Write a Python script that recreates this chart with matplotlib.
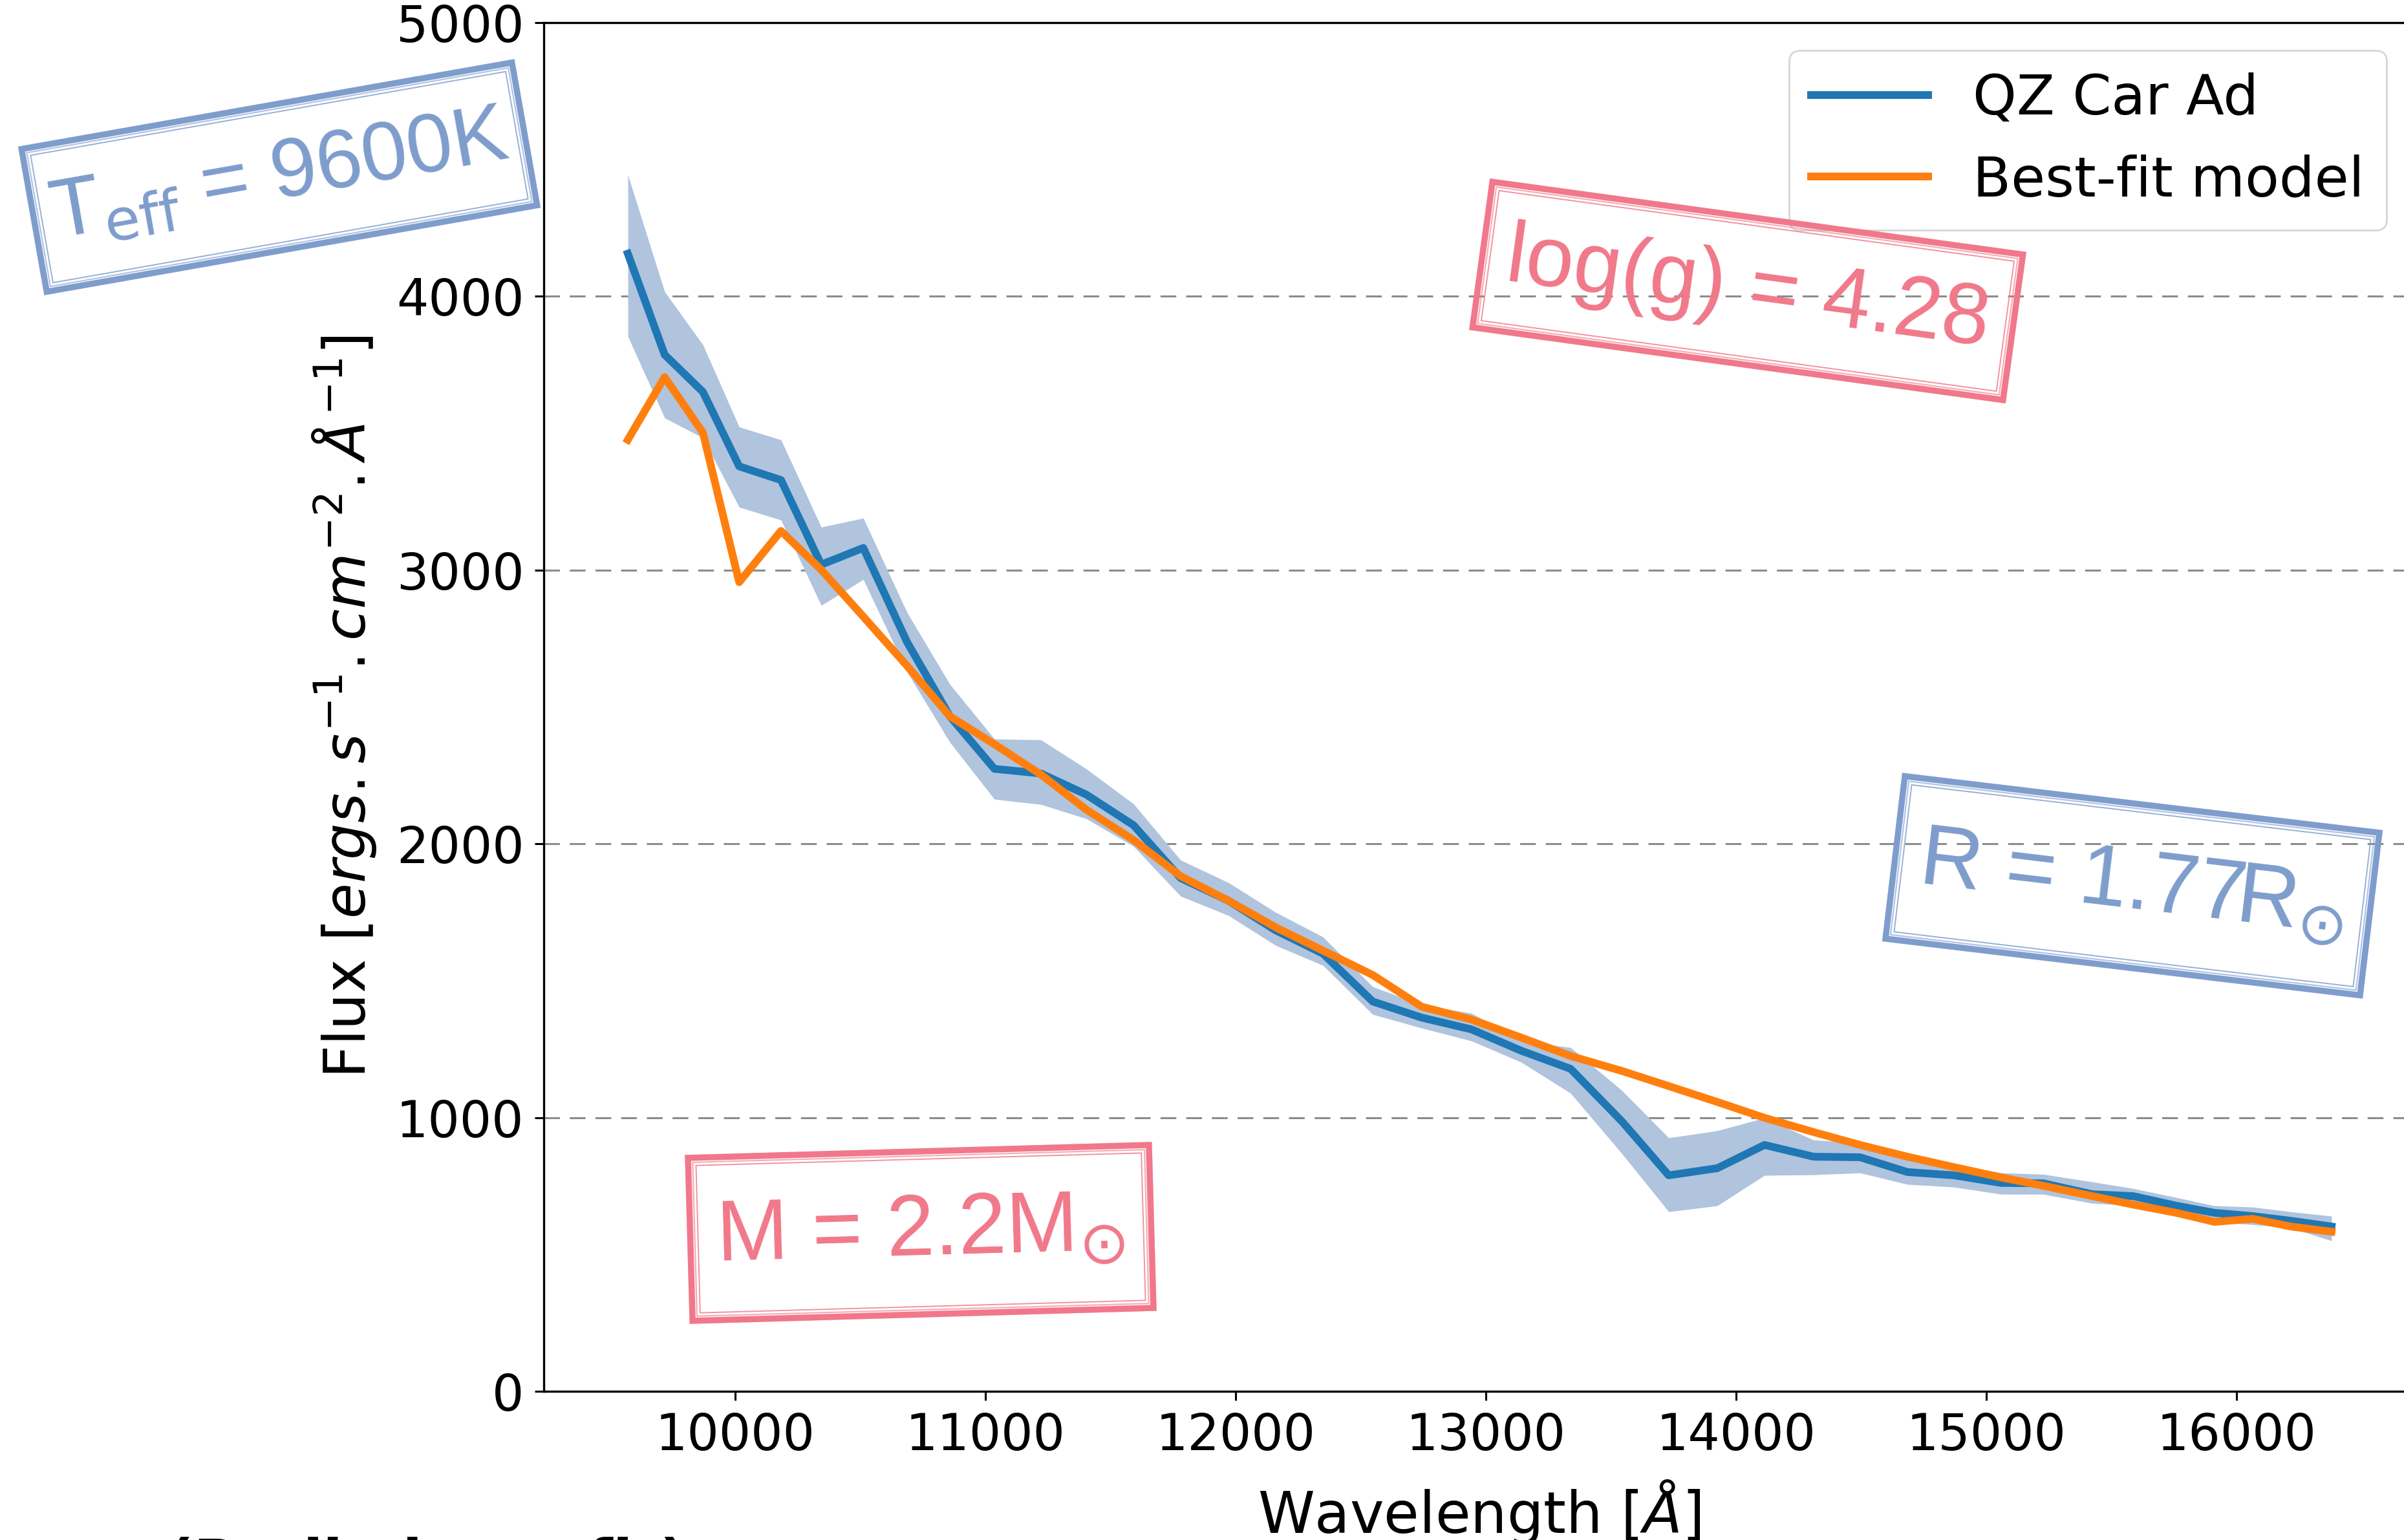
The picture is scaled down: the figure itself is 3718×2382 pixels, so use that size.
import numpy as np
import matplotlib
matplotlib.use("Agg")
import matplotlib.pyplot as plt
from matplotlib.patches import Rectangle
from matplotlib.transforms import Affine2D
from matplotlib import font_manager

# wavelength grid [A] and fluxes
wave = [9571, 9718, 9871, 10016, 10183, 10344, 10512, 10687, 10858, 11036,
        11222, 11403, 11592, 11780, 11972, 12160, 12349, 12548, 12744, 12943,
        13142, 13339, 13545, 13731, 13925, 14114, 14310, 14496, 14685, 14871,
        15061, 15227, 15424, 15587, 15760, 15912, 16065, 16217, 16380]
flux_obs = [4156, 3787, 3651, 3379, 3329, 3020, 3081, 2737, 2466, 2274,
            2257, 2180, 2068, 1875, 1792, 1684, 1599, 1424, 1365, 1322,
            1244, 1178, 985, 789, 815, 900, 857, 855, 801, 789,
            761, 760, 720, 713, 678, 652, 640, 623, 602]
flux_up = [4444, 4017, 3823, 3523, 3476, 3157, 3190, 2845, 2583, 2383,
           2380, 2274, 2146, 1941, 1858, 1750, 1660, 1478, 1412, 1381,
           1280, 1256, 1098, 926, 952, 999, 918, 909, 845, 829,
           798, 793, 765, 741, 708, 678, 673, 656, 640]
flux_lo = [3854, 3556, 3483, 3230, 3183, 2871, 2966, 2628, 2371, 2163,
           2144, 2092, 1991, 1809, 1738, 1629, 1556, 1377, 1327, 1280,
           1202, 1089, 867, 656, 678, 789, 791, 798, 756, 746,
           720, 720, 687, 678, 645, 619, 609, 597, 550]
flux_model = [3476, 3705, 3502, 2956, 3143, 3001, 2830, 2650, 2466, 2364,
              2253, 2125, 2014, 1882, 1792, 1695, 1610, 1521, 1405, 1358,
              1292, 1225, 1170, 1115, 1057, 999, 947, 900, 857, 819,
              781, 751, 713, 682, 652, 619, 630, 602, 583]

stamp_texts = [r"T$_{\rm eff}$ = 9600K", "log(g) = 4.28",
               "R = 1.77R$_{⊙}$", "M = 2.2M$_{⊙}$"]

W, H, DPI = 3718, 2382, 200
BLUE_ST = "#7f9dcc"
PINK_ST = "#f0788a"

names = {f.name for f in font_manager.fontManager.ttflist}
stamp_font = "Liberation Sans" if "Liberation Sans" in names else "DejaVu Sans"

fig = plt.figure(figsize=(W / DPI, H / DPI), dpi=DPI)
ax = fig.add_axes([841 / W, (H - 2152) / H, (3734 - 841) / W, (2152 - 35) / H])

ax.fill_between(wave, flux_lo, flux_up, color="lightsteelblue", lw=0, zorder=1)
ax.plot(wave, flux_obs, color="#1f77b4", lw=4.3, label="QZ Car Ad", zorder=3)
ax.plot(wave, flux_model, color="#ff7f0e", lw=4.3, label="Best-fit model", zorder=4)

ax.set_xlim(9235, 16711)
ax.set_ylim(0, 5000)
ax.set_xticks(range(10000, 16001, 1000))
ax.set_yticks(range(0, 5001, 1000))
ax.yaxis.grid(True, ls=(0, (8, 5)), color="0.55", lw=1.1, zorder=0)
ax.set_axisbelow(True)
ax.tick_params(labelsize=28, length=5, width=1.1, pad=6)
for s in ax.spines.values():
    s.set_linewidth(1.2)

ax.set_xlabel(r"Wavelength [$\AA$]", fontsize=32, labelpad=10)
ax.set_ylabel(r"Flux [$ergs.s^{-1}.cm^{-2}.\AA^{-1}$]", fontsize=32, labelpad=10)

ax.legend(loc="upper right", fontsize=31, handlelength=2.1)


def stamp(cx, cy, w, h, ang, txt, col, size=48):
    tr = Affine2D().rotate_deg(ang).translate(cx / DPI, (H - cy) / DPI) + fig.dpi_scale_trans
    w, h = w / DPI, h / DPI
    fig.add_artist(Rectangle((-w / 2, -h / 2), w, h, transform=tr, fill=False,
                             ec=col, lw=3.4, zorder=10))
    # rough inner strokes for the rubber-stamp look
    for d, lw, a in [(0.035, 0.8, 0.6), (0.06, 0.7, 0.8), (-0.02, 0.6, 0.4)]:
        fig.add_artist(Rectangle((-w / 2 + d, -h / 2 + d), w - 2 * d, h - 2 * d,
                                 transform=tr, fill=False, ec=col, lw=lw,
                                 alpha=a, zorder=10))
    fig.text(0, 0, txt, transform=tr, rotation=ang, rotation_mode="anchor",
             ha="center", va="center", color=col, fontsize=size,
             family=[stamp_font, "DejaVu Sans"], zorder=11)


stamp(432, 274, 770, 224, 10.0, stamp_texts[0], BLUE_ST, 46)
stamp(2703, 450, 828, 227, -7.8, stamp_texts[1], PINK_ST)
stamp(3298, 1370, 739, 253, -6.8, stamp_texts[2], BLUE_ST)
stamp(1424, 1907, 713, 252, 1.6, stamp_texts[3], PINK_ST)

# caption cut off at the bottom edge of the slide
fig.text(259 / W, (H - 2445) / H, "(Preliminary fit)", fontsize=32,
         fontweight="bold", va="baseline", ha="left")

fig.savefig("out.png", dpi=DPI)
